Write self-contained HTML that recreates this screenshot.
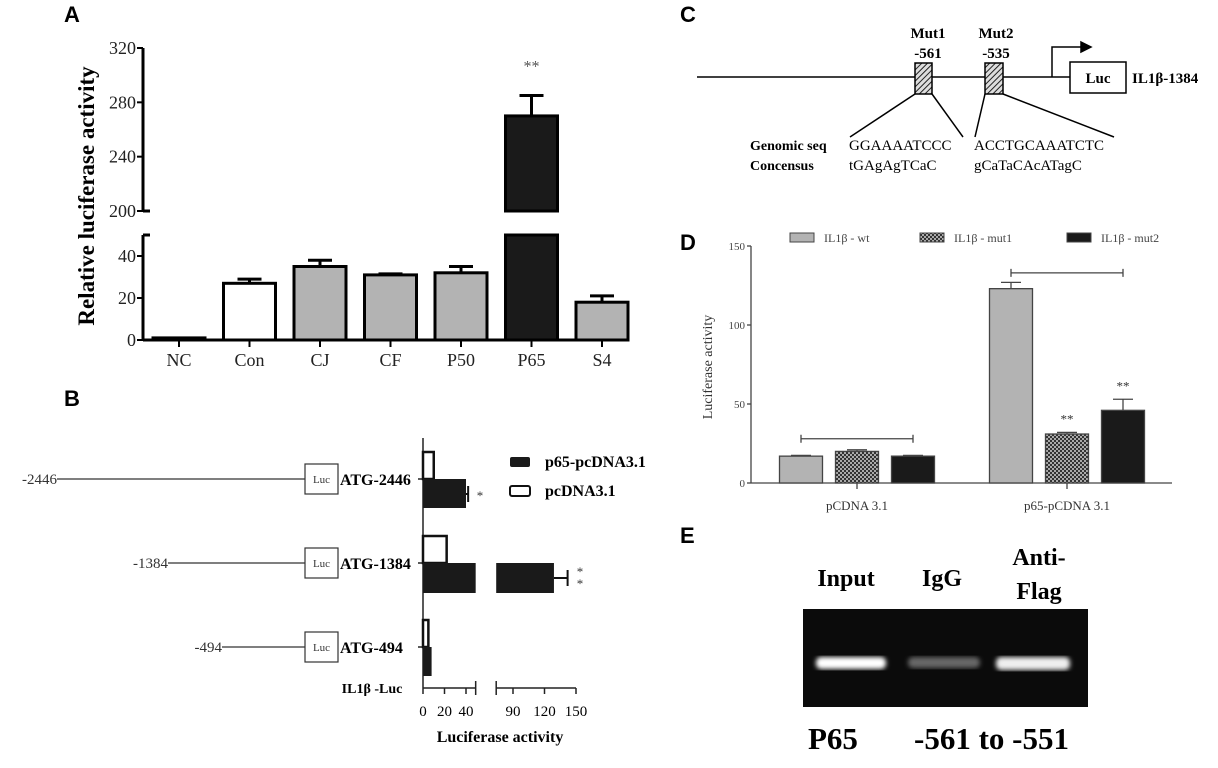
<!DOCTYPE html>
<html><head><meta charset="utf-8"><style>
html,body{margin:0;padding:0;background:#fff;}
svg{display:block;font-family:"Liberation Serif",serif;}
.pl{font-family:"Liberation Sans",sans-serif;font-weight:bold;font-size:22px;}
</style></head><body>
<svg id="fig" width="1218" height="768" viewBox="0 0 1218 768">
<defs>
<pattern id="hatch" width="4" height="4" patternUnits="userSpaceOnUse" patternTransform="rotate(45)"><rect width="4" height="4" fill="#ddd"/><line x1="0" y1="0" x2="0" y2="4" stroke="#222" stroke-width="2"/></pattern>
<pattern id="check" width="4" height="4" patternUnits="userSpaceOnUse"><rect width="4" height="4" fill="#333"/><rect width="2" height="2" fill="#aaa"/><rect x="2" y="2" width="2" height="2" fill="#aaa"/></pattern>
<filter id="blur"><feGaussianBlur stdDeviation="2.5"/></filter>
</defs>
<text class="pl" x="64" y="22">A</text>
<text class="pl" x="64" y="406">B</text>
<text class="pl" x="680" y="22">C</text>
<text class="pl" x="680" y="250">D</text>
<text class="pl" x="680" y="543">E</text>

<g id="panelA"></g>
<g id="panelB"></g>

<g stroke="#000" stroke-width="1.5" fill="none">
<line x1="697" y1="77" x2="1070" y2="77"/>
<polyline points="1052,77 1052,47 1083,47"/>
<polygon points="1081,42 1091,47 1081,52" fill="#000"/>
<rect x="1070" y="62" width="56" height="31" fill="#fff"/>
<rect x="915" y="63" width="17" height="31" fill="url(#hatch)"/>
<rect x="985" y="63" width="18" height="31" fill="url(#hatch)"/>
<line x1="915" y1="94" x2="850" y2="137"/><line x1="932" y1="94" x2="963" y2="137"/>
<line x1="985" y1="94" x2="975" y2="137"/><line x1="1003" y1="94" x2="1114" y2="137"/>
</g>
<g font-size="15" fill="#000">
<text x="1098" y="83" font-weight="bold" text-anchor="middle">Luc</text>
<text x="1132" y="83" font-weight="bold">IL1β-1384</text>
<text x="928" y="38" font-weight="bold" text-anchor="middle">Mut1</text>
<text x="928" y="58" font-weight="bold" text-anchor="middle">-561</text>
<text x="996" y="38" font-weight="bold" text-anchor="middle">Mut2</text>
<text x="996" y="58" font-weight="bold" text-anchor="middle">-535</text>
<text x="750" y="150" font-weight="bold" font-size="14">Genomic seq</text>
<text x="750" y="170" font-weight="bold" font-size="14">Concensus</text>
<text x="849" y="150">GGAAAATCCC</text>
<text x="849" y="170">tGAgAgTCaC</text>
<text x="974" y="150">ACCTGCAAATCTC</text>
<text x="974" y="170">gCaTaCAcATagC</text>
</g>

<g id="panelD"></g>

<g>
<rect x="803" y="609" width="285" height="98" fill="#0b0b0b"/>
<rect x="816" y="657" width="70" height="12" rx="5" fill="#fff" filter="url(#blur)"/>
<rect x="908" y="657" width="72" height="11" rx="5" fill="#666" filter="url(#blur)"/>
<rect x="996" y="657" width="74" height="13" rx="5" fill="#eee" filter="url(#blur)"/>
<g font-weight="bold" font-size="24" text-anchor="middle">
<text x="846" y="586">Input</text>
<text x="942" y="586">IgG</text>
<text x="1039" y="565">Anti-</text>
<text x="1039" y="599">Flag</text>
</g>
<text x="808" y="749" font-weight="bold" font-size="31">P65</text>
<text x="914" y="749" font-weight="bold" font-size="31">-561 to -551</text>
</g>
</svg>
<script>
const aCategories = ["NC","Con","CJ","CF","P50","P65","S4"];
const aValues = [1,27,35,31,32,270,18];
const aErrors = [0,2,3,0.5,3,15,3];
const aFills = ["#fff","#fff","#b3b3b3","#b3b3b3","#b3b3b3","#1a1a1a","#b3b3b3"];
const aLowTicks = [0,20,40];
const aHighTicks = [200,240,280,320];
const bRows = ["ATG-2446","ATG-1384","ATG-494"];
const bRowStarts = ["-2446","-1384","-494"];
const bCtrl = [10,22,5];
const bP65 = [40,129,8];
const bP65Err = [2,13,0];
const bTicksLeft = [0,20,40];
const bTicksRight = [90,120,150];
const dGroups = ["pCDNA 3.1","p65-pCDNA 3.1"];
const dSeries = ["IL1β - wt","IL1β - mut1","IL1β - mut2"];
const dWt = [17,123];
const dMut1 = [20,31];
const dMut2 = [17,46];
const dWtErr = [0.5,4];
const dMut1Err = [1,1];
const dMut2Err = [0.5,7];
const dTicks = [0,50,100,150];

const NS="http://www.w3.org/2000/svg";
function mk(parent,tag,attrs,txt){const e=document.createElementNS(NS,tag);for(const k in attrs)e.setAttribute(k,attrs[k]);if(txt!==undefined)e.textContent=txt;parent.appendChild(e);return e;}

(function(){
const g=document.getElementById('panelA');
const ax=143, y0=340, lowTop=235, brk=211;
const yLow=v=>y0-Math.min(v,50)*2.1;
const yHigh=v=>brk-(v-200)*1.3583;
const yv=v=>v<=50?yLow(v):yHigh(v);
const xc=i=>179+i*70.5, bw=52;
mk(g,'line',{x1:ax,y1:yHigh(320),x2:ax,y2:brk,stroke:'#000','stroke-width':3});
mk(g,'line',{x1:ax,y1:lowTop,x2:ax,y2:y0+1,stroke:'#000','stroke-width':3});
mk(g,'line',{x1:ax,y1:brk,x2:ax+7,y2:brk,stroke:'#000','stroke-width':3});
mk(g,'line',{x1:ax,y1:lowTop,x2:ax+7,y2:lowTop,stroke:'#000','stroke-width':3});
mk(g,'line',{x1:ax,y1:y0,x2:622,y2:y0,stroke:'#000','stroke-width':3});
aLowTicks.forEach(t=>{const y=yLow(t);mk(g,'line',{x1:ax-6,y1:y,x2:ax,y2:y,stroke:'#000','stroke-width':2});
 const l=mk(g,'text',{x:ax-7,y:y+6,'text-anchor':'end','font-size':18,fill:'#222'},t);
 
 });
aHighTicks.forEach(t=>{const y=yHigh(t);mk(g,'line',{x1:ax-6,y1:y,x2:ax,y2:y,stroke:'#000','stroke-width':2});
 const l=mk(g,'text',{x:ax-7,y:y+6,'text-anchor':'end','font-size':18,fill:'#222'},t);
 
 });
aCategories.forEach((c,i)=>{
 const x=xc(i), v=aValues[i];
 let b;
 if(v>50){
  b=mk(g,'rect',{x:x-bw/2,y:lowTop,width:bw,height:y0-lowTop,fill:aFills[i],stroke:'#000','stroke-width':3});
  mk(g,'rect',{x:x-bw/2,y:yHigh(v),width:bw,height:brk-yHigh(v),fill:aFills[i],stroke:'#000','stroke-width':3});
 } else {
  b=mk(g,'rect',{x:x-bw/2,y:yv(v),width:bw,height:Math.max(y0-yv(v),1),fill:aFills[i],stroke:'#000','stroke-width':3});
 }
 
 
 if(aErrors[i]>0){const ye=yv(v+aErrors[i]);
  mk(g,'line',{x1:x,y1:yv(v),x2:x,y2:ye,stroke:'#000','stroke-width':3});
  mk(g,'line',{x1:x-12,y1:ye,x2:x+12,y2:ye,stroke:'#000','stroke-width':3});}
 mk(g,'line',{x1:x,y1:y0,x2:x,y2:y0+7,stroke:'#000','stroke-width':2});
 const l=mk(g,'text',{x:x,y:y0+26,'text-anchor':'middle','font-size':18,fill:'#222'},c);
 
 
});
const s=mk(g,'text',{x:xc(5),y:yv(aValues[5]+aErrors[5])-24,'text-anchor':'middle','font-size':16,fill:'#555'},'**');


const t=mk(g,'text',{x:0,y:0,'text-anchor':'middle','font-size':23,'font-weight':'bold',transform:'translate(94,196) rotate(-90)'},'Relative luciferase activity');


})();

(function(){
const g=document.getElementById('panelB');
const ax=423, yAx=688, top=438;
const xL=v=>ax+v*1.075, xR=v=>513+(v-90)*1.05;
const xv=v=>v<=49?xL(v):xR(v);
const rowY=[479,563,647];
const lineStart=[57,168,222];
mk(g,'line',{x1:ax,y1:top,x2:ax,y2:yAx,stroke:'#222','stroke-width':1.5});
mk(g,'line',{x1:ax,y1:yAx,x2:xL(49),y2:yAx,stroke:'#222','stroke-width':1.5});
mk(g,'line',{x1:xR(74),y1:yAx,x2:xR(150),y2:yAx,stroke:'#222','stroke-width':1.5});
[xL(49),xR(74)].forEach(x=>mk(g,'line',{x1:x,y1:yAx-7,x2:x,y2:yAx+7,stroke:'#222','stroke-width':1.5}));
bTicksLeft.forEach(t=>{const x=xL(t);mk(g,'line',{x1:x,y1:yAx,x2:x,y2:yAx+6,stroke:'#222','stroke-width':1.5});
 const l=mk(g,'text',{x:x,y:yAx+28,'text-anchor':'middle','font-size':15},t);
 
 });
bTicksRight.forEach(t=>{const x=xR(t);mk(g,'line',{x1:x,y1:yAx,x2:x,y2:yAx+6,stroke:'#222','stroke-width':1.5});
 const l=mk(g,'text',{x:x,y:yAx+28,'text-anchor':'middle','font-size':15},t);
 
 });
bRows.forEach((r,i)=>{
 const y=rowY[i];
 mk(g,'line',{x1:ax-5,y1:y,x2:ax,y2:y,stroke:'#222','stroke-width':1.5});
 const c=mk(g,'rect',{x:ax,y:y-27,width:xv(bCtrl[i])-ax,height:27,fill:'#fff',stroke:'#111','stroke-width':2.5});
 
 
 const v=bP65[i];
 if(v>49){
  const b=mk(g,'rect',{x:ax,y:y,width:xL(49)-ax,height:30,fill:'#1a1a1a'});
  
  
  mk(g,'rect',{x:xR(74),y:y,width:xR(v)-xR(74),height:30,fill:'#1a1a1a'});
 } else {
  const b=mk(g,'rect',{x:ax,y:y,width:Math.max(xv(v)-ax,1),height:29,fill:'#1a1a1a'});
  
  
 }
 if(bP65Err[i]>0){const xe=xv(v+bP65Err[i]);
  mk(g,'line',{x1:xv(v),y1:y+15,x2:xe,y2:y+15,stroke:'#111','stroke-width':2});
  mk(g,'line',{x1:xe,y1:y+7,x2:xe,y2:y+23,stroke:'#111','stroke-width':2});}
 mk(g,'line',{x1:lineStart[i],y1:y,x2:305,y2:y,stroke:'#333','stroke-width':1.2});
 const st=mk(g,'text',{x:lineStart[i],y:y+5,'text-anchor':'end','font-size':15,fill:'#333'},bRowStarts[i]);
 
 
 mk(g,'rect',{x:305,y:y-15,width:33,height:30,fill:'#fff',stroke:'#333','stroke-width':1.2});
 mk(g,'text',{x:321.5,y:y+4,'text-anchor':'middle','font-size':11,fill:'#333'},'Luc');
 const rl=mk(g,'text',{x:340,y:y+6,'font-size':16,'font-weight':'bold'},r);
 
 
});
mk(g,'text',{x:480,y:500,'text-anchor':'middle','font-size':13,fill:'#333'},'*');
mk(g,'text',{x:580,y:576,'text-anchor':'middle','font-size':13,fill:'#333'},'*');
mk(g,'text',{x:580,y:588,'text-anchor':'middle','font-size':13,fill:'#333'},'*');
mk(g,'text',{x:372,y:693,'text-anchor':'middle','font-size':14,'font-weight':'bold'},'IL1β -Luc');
const xt=mk(g,'text',{x:500,y:742,'text-anchor':'middle','font-size':16,'font-weight':'bold'},'Luciferase activity');


const l1=mk(g,'rect',{x:510,y:457,width:20,height:10,rx:2,fill:'#1a1a1a'});


mk(g,'text',{x:545,y:467,'font-size':16,'font-weight':'bold'},'p65-pcDNA3.1');
const l2=mk(g,'rect',{x:510,y:486,width:20,height:10,rx:2,fill:'#fff',stroke:'#111','stroke-width':2});


mk(g,'text',{x:545,y:496,'font-size':16,'font-weight':'bold'},'pcDNA3.1');
})();

(function(){
const g=document.getElementById('panelD');
const ax=751, y0=483;
const yv=v=>y0-v*1.58;
const gx=[857,1067], bw=43, off=[-56,0,56];
const fills=['#b3b3b3','url(#check)','#1a1a1a'];
const vals=[dWt,dMut1,dMut2], errs=[dWtErr,dMut1Err,dMut2Err];
mk(g,'line',{x1:ax,y1:yv(150),x2:ax,y2:y0,stroke:'#444','stroke-width':1.3});
mk(g,'line',{x1:ax,y1:y0,x2:1172,y2:y0,stroke:'#444','stroke-width':1.3});
dTicks.forEach(t=>{const y=yv(t);mk(g,'line',{x1:ax-4,y1:y,x2:ax,y2:y,stroke:'#444','stroke-width':1.3});
 const l=mk(g,'text',{x:ax-6,y:y+4,'text-anchor':'end','font-size':11,fill:'#444'},t);
 
 });
dGroups.forEach((gr,i)=>{
 mk(g,'line',{x1:gx[i],y1:y0,x2:gx[i],y2:y0+6,stroke:'#444','stroke-width':1.3});
 const l=mk(g,'text',{x:gx[i],y:y0+27,'text-anchor':'middle','font-size':13,fill:'#333'},gr);
 
 
 for(let s=0;s<3;s++){
  const x=gx[i]+off[s], v=vals[s][i];
  const b=mk(g,'rect',{x:x-bw/2,y:yv(v),width:bw,height:y0-yv(v),fill:fills[s],stroke:'#444','stroke-width':1.3});
  
  
  const ye=yv(v+errs[s][i]);
  mk(g,'line',{x1:x,y1:yv(v),x2:x,y2:ye,stroke:'#444','stroke-width':1.3});
  mk(g,'line',{x1:x-10,y1:ye,x2:x+10,y2:ye,stroke:'#444','stroke-width':1.3});
 }
});
[[1,1],[1,2]].forEach(([i,s])=>{const x=gx[i]+off[s];const ye=yv(vals[s][i]+errs[s][i]);
 const t=mk(g,'text',{x:x,y:ye-9,'text-anchor':'middle','font-size':13,fill:'#333'},'**');
 
 });
[[0,28],[1,133]].forEach(([i,v])=>{const y=yv(v),x1=gx[i]+off[0],x2=gx[i]+off[2];
 mk(g,'line',{x1:x1,y1:y,x2:x2,y2:y,stroke:'#444','stroke-width':1.3});
 mk(g,'line',{x1:x1,y1:y-4,x2:x1,y2:y+4,stroke:'#444','stroke-width':1.3});
 mk(g,'line',{x1:x2,y1:y-4,x2:x2,y2:y+4,stroke:'#444','stroke-width':1.3});});
const lx=[790,920,1067];
dSeries.forEach((s,i)=>{
 const r=mk(g,'rect',{x:lx[i],y:233,width:24,height:9,fill:fills[i],stroke:'#444','stroke-width':1});
 
 
 const t=mk(g,'text',{x:lx[i]+34,y:242,'font-size':12,fill:'#444'},s);
 
 
});
const yt=mk(g,'text',{x:0,y:0,'text-anchor':'middle','font-size':14,fill:'#333',transform:'translate(712,367) rotate(-90)'},'Luciferase activity');


})();
</script>
</body></html>
